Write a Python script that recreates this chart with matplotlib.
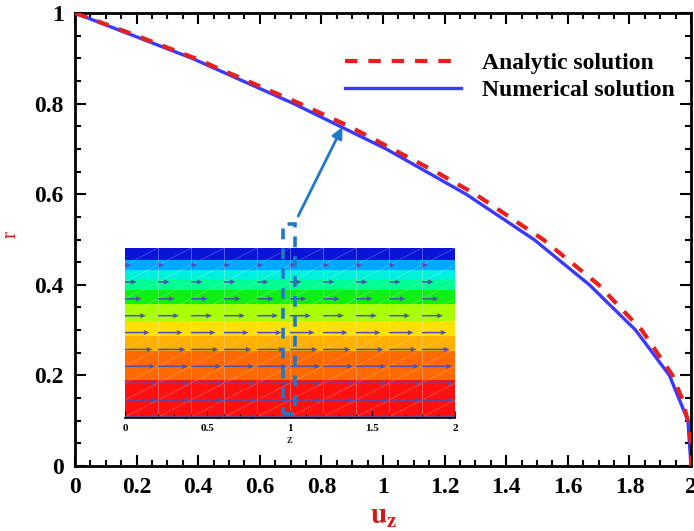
import matplotlib
matplotlib.use("Agg")
import matplotlib.pyplot as plt
from matplotlib.ticker import MultipleLocator, FuncFormatter
from matplotlib.patches import Rectangle

plt.rcParams['font.family'] = ['Liberation Serif', 'DejaVu Serif']
plt.rcParams['font.weight'] = 'bold'
plt.rcParams['mathtext.fontset'] = 'stix'

# analytic velocity profile
r_ana = [1.00, 0.95, 0.90, 0.85, 0.80, 0.75, 0.70, 0.65, 0.60, 0.55, 0.50,
         0.45, 0.40, 0.35, 0.30, 0.25, 0.20, 0.15, 0.10, 0.05, 0.00]
u_ana = [0.00, 0.20, 0.39, 0.56, 0.73, 0.89, 1.03, 1.17, 1.30, 1.41, 1.52,
         1.61, 1.70, 1.77, 1.84, 1.89, 1.94, 1.97, 1.99, 2.00, 2.00]

# numerical solution (blue line)
r_num = [1.0, 0.9, 0.8, 0.7, 0.6, 0.5, 0.4, 0.3, 0.2, 0.1, 0.0]
u_num = [0.00, 0.38, 0.71, 1.01, 1.27, 1.49, 1.67, 1.82, 1.93, 1.99, 2.00]

# inset: contour bands of u_z (r edges from the wall down to the axis)
band_edges = [1.0, 0.93, 0.87, 0.82, 0.75, 0.67, 0.57, 0.48, 0.39, 0.22, 0.0]
band_colors = ['#0a14d6', '#00a8ff', '#00f0e0', '#00ff90', '#10f010',
               '#a8ff00', '#ffe000', '#ffb000', '#ff6a00', '#ff1010']
z_cols = [0.0, 0.2, 0.4, 0.6, 0.8, 1.0, 1.2, 1.4, 1.6, 1.8]

red = '#e8201c'
blue = '#3a3aff'
arrow_blue = '#1f78c8'

fig = plt.figure(figsize=(6.94, 5.31), dpi=100)
ax = fig.add_axes([0.108, 0.1224, 0.8877, 0.8531])

ax.plot(u_ana, r_ana, color=red, lw=3, dashes=(3.0, 2.6), label='Analytic solution', zorder=3)
ax.plot(u_num, r_num, color=blue, lw=2.4, label='Numerical solution', zorder=2)

ax.set_xlim(0, 2)
ax.set_ylim(0, 1)
ax.xaxis.set_major_locator(MultipleLocator(0.2))
ax.xaxis.set_minor_locator(MultipleLocator(0.05))
ax.yaxis.set_major_locator(MultipleLocator(0.2))
ax.yaxis.set_minor_locator(MultipleLocator(0.05))
fmt = FuncFormatter(lambda v, p: f'{v:g}')
ax.xaxis.set_major_formatter(fmt)
ax.yaxis.set_major_formatter(fmt)
ax.tick_params(which='both', direction='in', top=True, right=True, width=1.5)
ax.tick_params(which='major', length=8, labelsize=17, pad=8)
ax.tick_params(which='minor', length=4)
for s in ax.spines.values():
    s.set_linewidth(2)

fig.text(384 / 694, 1 - 516 / 531, r'$\mathbf{u_z}$', color='#d81818',
         fontsize=21, ha='center', va='center')
ax.set_ylabel('r', color='#d81818', fontsize=15)
ax.yaxis.set_label_coords(-0.088, 0.51)

ax.legend(loc='upper right', bbox_to_anchor=(0.997, 0.944), frameon=False,
          fontsize=17, handlelength=4.9, handletextpad=0.9, labelspacing=0.22,
          borderaxespad=0.2)

# inset with the velocity field
axins = fig.add_axes([0.180, 0.2147, 0.4755, 0.318])
axins.set_xlim(0, 2)
axins.set_ylim(0, 1)
for top, bot, c in zip(band_edges[:-1], band_edges[1:], band_colors):
    axins.axhspan(bot, top, color=c, lw=0, zorder=0)

# faint mesh
for x in z_cols[1:]:
    axins.axvline(x, color='white', lw=0.6, alpha=0.35, zorder=1)
for i in range(len(r_num) - 1):
    for x in z_cols:
        axins.plot([x, x + 0.2], [r_num[i + 1], r_num[i]], color='white', lw=0.5, alpha=0.3, zorder=1)

# velocity vectors
for r, u in zip(r_num, u_num):
    if u <= 0:
        continue
    axins.quiver(z_cols, [r] * len(z_cols), [u] * len(z_cols), [0] * len(z_cols),
                 angles='xy', scale_units='xy', scale=10, color='#4e4eb0',
                 width=0.0045, headwidth=3.5, headlength=4, headaxislength=3.5,
                 zorder=2, clip_on=False)

axins.xaxis.set_major_locator(MultipleLocator(0.5))
axins.xaxis.set_minor_locator(MultipleLocator(0.1))
axins.xaxis.set_major_formatter(fmt)
axins.tick_params(which='both', direction='in', top=False, labelsize=8, pad=4)
axins.tick_params(which='major', length=5)
axins.tick_params(which='minor', length=3)
axins.set_yticks([])
for side in ['left', 'right', 'top']:
    axins.spines[side].set_visible(False)
axins.spines['bottom'].set_linewidth(1.2)
axins.spines['bottom'].set_position(('outward', 1))
axins.set_xlabel('z', fontsize=9, labelpad=1)

# dashed selection box and pointer
box = Rectangle((0.96, 0.02), 0.07, 1.12, fill=False, ec=arrow_blue, lw=2.6,
                ls=(0, (3, 2.5)), clip_on=False, zorder=5)
axins.add_patch(box)
axins.annotate('', xy=(0.868, 0.748), xycoords=ax.transData,
               xytext=(1.05, 1.19), textcoords=axins.transData,
               arrowprops=dict(arrowstyle='-|>', color=arrow_blue, lw=2,
                               mutation_scale=16, shrinkA=0, shrinkB=0),
               annotation_clip=False)

fig.savefig('out.png', dpi=100)
